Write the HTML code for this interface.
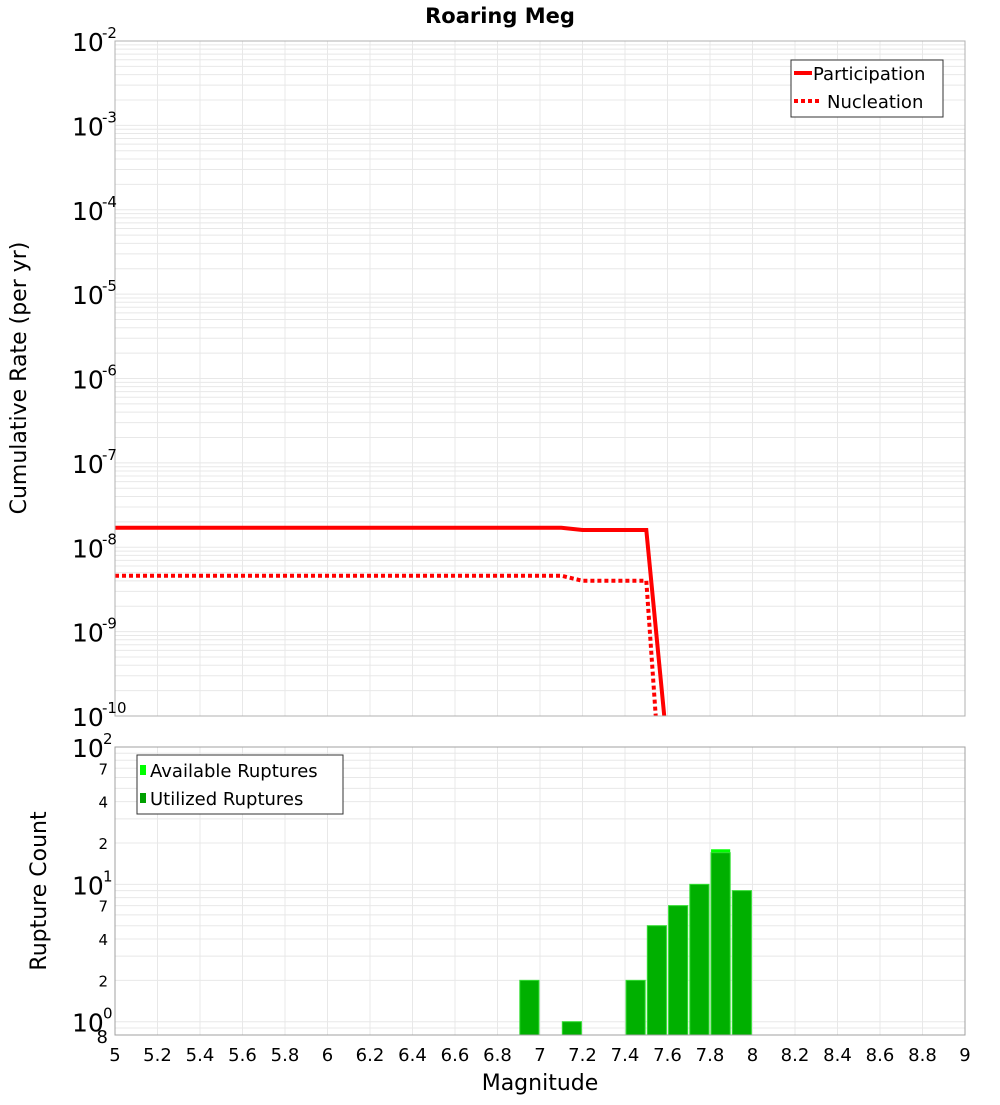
<!DOCTYPE html>
<html><head><meta charset="utf-8"><style>
body{margin:0;background:#fff;font-family:"Liberation Sans","DejaVu Sans",sans-serif}
svg text{font-family:"DejaVu Sans","Liberation Sans",sans-serif}
</style></head><body>
<svg id="c" width="1000" height="1100" viewBox="0 0 1000 1100" xmlns="http://www.w3.org/2000/svg"></svg>
<script>
const mags=[5.0,5.1,5.2,5.3,5.4,5.5,5.6,5.7,5.8,5.9,6.0,6.1,6.2,6.3,6.4,6.5,6.6,6.7,6.8,6.9,7.0,7.1,7.2,7.3,7.4,7.5,7.6];
const participation=[1.7e-8,1.7e-8,1.7e-8,1.7e-8,1.7e-8,1.7e-8,1.7e-8,1.7e-8,1.7e-8,1.7e-8,1.7e-8,1.7e-8,1.7e-8,1.7e-8,1.7e-8,1.7e-8,1.7e-8,1.7e-8,1.7e-8,1.7e-8,1.7e-8,1.7e-8,1.6e-8,1.6e-8,1.6e-8,1.6e-8,4e-11];
const nucleation=[4.6e-9,4.6e-9,4.6e-9,4.6e-9,4.6e-9,4.6e-9,4.6e-9,4.6e-9,4.6e-9,4.6e-9,4.6e-9,4.6e-9,4.6e-9,4.6e-9,4.6e-9,4.6e-9,4.6e-9,4.6e-9,4.6e-9,4.6e-9,4.6e-9,4.6e-9,4.0e-9,4.0e-9,4.0e-9,4.0e-9,1e-12];
const barMags=[6.95,7.15,7.45,7.55,7.65,7.75,7.85,7.95];
const availableCounts=[2,1,2,5,7,10,18,9];
const utilizedCounts=[2,1,2,5,7,10,17,9];
const xTicks=[5,5.2,5.4,5.6,5.8,6,6.2,6.4,6.6,6.8,7,7.2,7.4,7.6,7.8,8,8.2,8.4,8.6,8.8,9];
const topExps=[-2,-3,-4,-5,-6,-7,-8,-9,-10];
const NS='http://www.w3.org/2000/svg';
const svg=document.getElementById('c');
function el(t,a,p){const e=document.createElementNS(NS,t);for(const k in a)e.setAttribute(k,a[k]);(p||svg).appendChild(e);return e;}
const X0=115,X1=965;
const xs=m=>X0+(m-5)/4*(X1-X0);
const T0=41,T1=716;
const yt=v=>T0+(-2-Math.log10(v))/8*(T1-T0);
const B0=747,B1=1035,bMin=Math.log10(0.8);
const yb=v=>B0+(2-Math.log10(v))/(2-bMin)*(B1-B0);
// title
let t=el('text',{x:500,y:23,'text-anchor':'middle','font-size':21,'font-weight':'bold'});t.textContent='Roaring Meg';

// top grid
const gTop=el('g',{stroke:'#e8e8e8','stroke-width':1});

for(let e=-10;e<-2;e++)for(let k=1;k<10;k++){const y=yt(k*Math.pow(10,e));el('line',{x1:X0,x2:X1,y1:y,y2:y},gTop);}
xTicks.forEach(m=>el('line',{x1:xs(m),x2:xs(m),y1:T0,y2:T1},gTop));
// bottom grid
const gBot=el('g',{stroke:'#e8e8e8','stroke-width':1});

[0.8,0.9,1,2,3,4,5,6,7,8,9,10,20,30,40,50,60,70,80,90].forEach(v=>{const y=yb(v);el('line',{x1:X0,x2:X1,y1:y,y2:y},gBot);});
xTicks.forEach(m=>el('line',{x1:xs(m),x2:xs(m),y1:B0,y2:B1},gBot));
// clip
const defs=el('defs',{});const cp=el('clipPath',{id:'tc'},defs);el('rect',{x:X0,y:T0,width:X1-X0,height:T1-T0},cp);
// lines
function pts(arr){return mags.map((m,i)=>xs(m).toFixed(1)+','+yt(arr[i]).toFixed(1)).join(' ');}
let pl=el('polyline',{points:pts(participation),fill:'none',stroke:'#ff0000','stroke-width':4,'clip-path':'url(#tc)'});

let nl=el('polyline',{points:pts(nucleation),fill:'none',stroke:'#ff0000','stroke-width':4,'stroke-dasharray':'4,3','clip-path':'url(#tc)'});

// bars
barMags.forEach((m,i)=>{
 const x=xs(m-0.045),w=xs(m+0.045)-x;
 let a=el('rect',{x:x,y:yb(availableCounts[i]),width:w,height:B1-yb(availableCounts[i]),fill:'#00ff00'});
 
 let u=el('rect',{x:x,y:yb(utilizedCounts[i]),width:w,height:B1-yb(utilizedCounts[i]),fill:'#00b000',stroke:'#33dd33','stroke-width':1});
 
});
// frames
let f1=el('rect',{x:X0,y:T0,width:X1-X0,height:T1-T0,fill:'none',stroke:'#b0b0b0'});

let f2=el('rect',{x:X0,y:B0,width:X1-X0,height:B1-B0,fill:'none',stroke:'#a0a0a0'});

// top y ticks
topExps.forEach(e=>{const y=yt(Math.pow(10,e));
 let g=el('text',{x:72,y:y+10,'font-size':25});g.textContent='10';
 
 let s=el('text',{x:102,y:y-3,'font-size':15});s.textContent=String(e);
 });
// bottom y ticks
[[100,'2'],[10,'1'],[1,'0']].forEach(([v,e])=>{const y=yb(v);
 let g=el('text',{x:72,y:y+10,'font-size':25});g.textContent='10';
 
 let s=el('text',{x:103,y:y-3,'font-size':15});s.textContent=e;
 });
[70,40,20,7,4,2].forEach(v=>{let s=el('text',{x:108,y:yb(v)+6,'font-size':15,'text-anchor':'end'});s.textContent=String(v).charAt(0);
 });
let e8=el('text',{x:108,y:1043,'font-size':18,'text-anchor':'end'});e8.textContent='8';

// x ticks
xTicks.forEach(m=>{let s=el('text',{x:xs(m),y:1061,'font-size':18,'text-anchor':'middle'});s.textContent=String(m);
 });
let xt=el('text',{x:540,y:1090,'font-size':22,'text-anchor':'middle'});xt.textContent='Magnitude';

let yt1=el('text',{x:0,y:0,'font-size':22,'text-anchor':'middle',transform:'translate(26,378) rotate(-90)'});yt1.textContent='Cumulative Rate (per yr)';

let yt2=el('text',{x:0,y:0,'font-size':22,'text-anchor':'middle',transform:'translate(46,891) rotate(-90)'});yt2.textContent='Rupture Count';

// legend top
const lg=el('g',{});
el('rect',{x:791,y:60,width:152,height:57,fill:'#fff',stroke:'#333'},lg);
el('line',{x1:794,x2:812,y1:73,y2:73,stroke:'#f00','stroke-width':4},lg);
el('line',{x1:794,x2:822,y1:101,y2:101,stroke:'#f00','stroke-width':4,'stroke-dasharray':'4,3'},lg);
let l1=el('text',{x:813,y:80,'font-size':18},lg);l1.textContent='Participation';

let l2=el('text',{x:827,y:108,'font-size':18},lg);l2.textContent='Nucleation';

// legend bottom
const lb=el('g',{});
el('rect',{x:137,y:755,width:206,height:59,fill:'#fff',stroke:'#333'},lb);
el('rect',{x:140,y:765,width:6,height:10,fill:'#00ff00'},lb);
el('rect',{x:140,y:793,width:6,height:10,fill:'#00a000'},lb);
let b1=el('text',{x:150,y:777,'font-size':18},lb);b1.textContent='Available Ruptures';

let b2=el('text',{x:150,y:805,'font-size':18},lb);b2.textContent='Utilized Ruptures';

</script>
</body></html>
